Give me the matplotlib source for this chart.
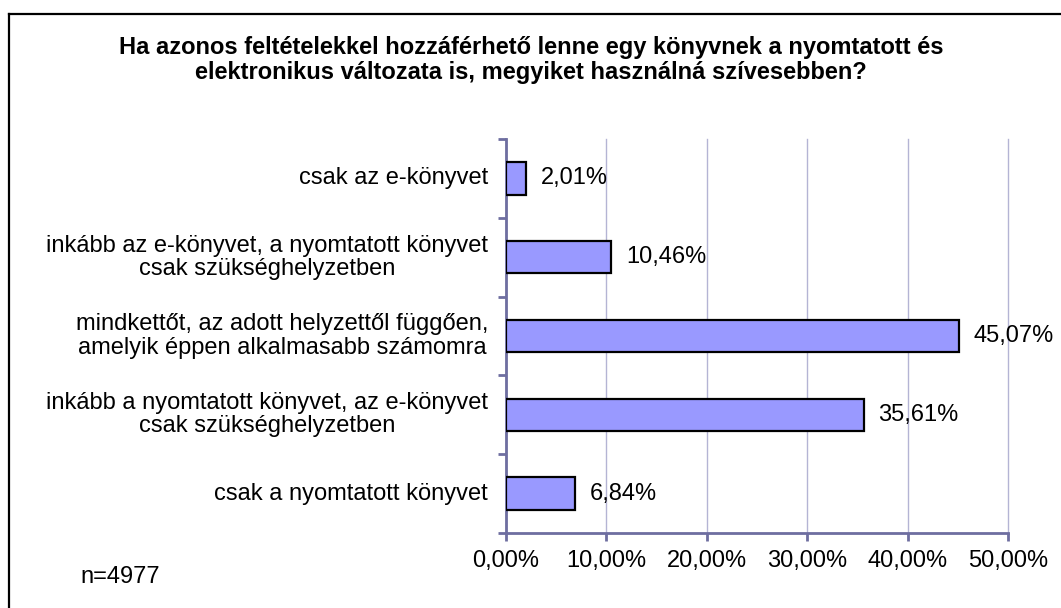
import matplotlib.pyplot as plt
from matplotlib.lines import Line2D
from matplotlib.ticker import FuncFormatter

# Adatok
categories = [
    "csak a nyomtatott könyvet",
    "inkább a nyomtatott könyvet, az e-könyvet\ncsak szükséghelyzetben",
    "mindkettőt, az adott helyzettől függően,\namelyik éppen alkalmasabb számomra",
    "inkább az e-könyvet, a nyomtatott könyvet\ncsak szükséghelyzetben",
    "csak az e-könyvet",
]
values = [6.84, 35.61, 45.07, 10.46, 2.01]
x_ticks = [0, 10, 20, 30, 40, 50]

title = ("Ha azonos feltételekkel hozzáférhető lenne egy könyvnek a nyomtatott és\n"
         "elektronikus változata is, megyiket használná szívesebben?")

plt.rcParams['font.family'] = ['Liberation Sans', 'DejaVu Sans']
fs = 17

W, H = 1061, 608
fig = plt.figure(figsize=(W / 100, H / 100), dpi=100)
ax = fig.add_axes([506 / W, 1 - 533 / H, (1008 - 506) / W, (533 - 139) / H])

spine_col = "#6E6EA0"
grid_col = "#B4B4D4"

pos = range(len(values))
ax.barh(pos, values, height=0.41, color="#9999FF", edgecolor="black", linewidth=1.6, zorder=3)

for p, v in zip(pos, values):
    ax.annotate(f"{v:.2f}%".replace(".", ","), (v, p), xytext=(15, 0),
                textcoords="offset pixels", va="center", ha="left", fontsize=fs)

ax.set_xlim(0, 50)
ax.set_ylim(-0.5, len(values) - 0.5)
ax.set_xticks(x_ticks)
ax.xaxis.set_major_formatter(FuncFormatter(lambda x, _: f"{x:.2f}%".replace(".", ",")))

# Kategóriák a tengely mellett
ax.set_yticks([i - 0.5 for i in range(len(values) + 1)])
ax.set_yticklabels([])
for p, label in zip(pos, categories):
    ax.text(-18 / 10.04, p, label, ha="right", va="center", multialignment="center",
            fontsize=fs, linespacing=1.08)

ax.grid(axis="x", color=grid_col, linewidth=1, zorder=0)
for gl in ax.get_xgridlines():
    gl.set_clip_on(False)
for s in ["top", "right"]:
    ax.spines[s].set_visible(False)
for s in ["left", "bottom"]:
    ax.spines[s].set_color(spine_col)
    ax.spines[s].set_linewidth(2)
ax.tick_params(axis="both", colors=spine_col, width=2, length=6, direction="out",
               labelcolor="black", labelsize=fs)
ax.tick_params(axis="x", pad=6)

fig.text(531 / W, 1 - 60 / H, title, ha="center", va="center", fontsize=fs,
         fontweight="bold", linespacing=1.08)
fig.text(80 / W, 1 - 577 / H, "n=4977", ha="left", va="center", fontsize=fs)

# Keret
fig.add_artist(Line2D([8.5 / W, 1.01], [1 - 14 / H, 1 - 14 / H], color="black", linewidth=1.6))
fig.add_artist(Line2D([8.5 / W, 8.5 / W], [1 - 14 / H, -0.01], color="black", linewidth=1.6))

fig.savefig("out.png", dpi=100)
